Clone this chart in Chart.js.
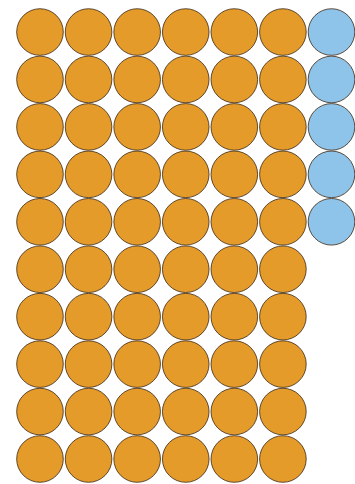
<!DOCTYPE html>
<html>
<head>
<meta charset="utf-8">
<style>
  html, body { margin: 0; padding: 0; background: #ffffff; }
  #wrap { width: 355px; height: 484px; }
</style>
<script src="https://cdn.jsdelivr.net/npm/chart.js@4/dist/chart.umd.min.js"></script>
</head>
<body>
<div id="wrap"><canvas id="c"></canvas></div>
<script>
// Waffle of dots: each group fills the grid column by column, top to bottom.
const categories = ['A', 'B'];
const counts = [60, 5];
const colors = ['#e49b2a', '#8ec4ea'];
const rowsPerColumn = 10;

let cursor = 0;
const datasets = categories.map((name, k) => {
  const pts = [];
  for (let n = 0; n < counts[k]; n++, cursor++) {
    pts.push({ x: Math.floor(cursor / rowsPerColumn), y: cursor % rowsPerColumn });
  }
  return {
    label: name,
    data: pts,
    backgroundColor: colors[k],
    borderColor: 'rgba(60, 40, 20, 0.8)',
    borderWidth: 1,
    pointRadius: 23.3,
    pointHoverRadius: 23.3,
    clip: false
  };
});

new Chart(document.getElementById('c'), {
  type: 'scatter',
  data: { datasets },
  options: {
    responsive: true,
    maintainAspectRatio: false,
    animation: false,
    layout: { padding: 0, autoPadding: false },
    plugins: { legend: { display: false }, tooltip: { enabled: false } },
    scales: {
      x: { display: false, min: -0.823, max: 6.484 },
      y: { display: false, reverse: true, min: -0.675, max: 9.527 }
    }
  }
});
</script>
</body>
</html>
